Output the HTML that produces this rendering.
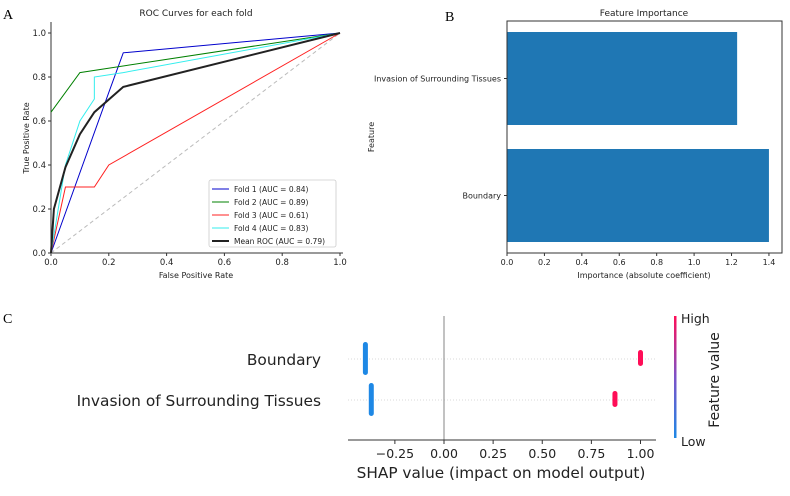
<!DOCTYPE html>
<html><head><meta charset="utf-8"><style>
body{margin:0;background:#fff;}
svg text{font-family:"DejaVu Sans","Liberation Sans",sans-serif;fill:#222;}
.lbl{font-family:"Liberation Serif",serif !important;fill:#000;}
</style></head><body>
<svg id="s" width="790" height="491" xmlns="http://www.w3.org/2000/svg">
<defs><linearGradient id="cb" x1="0" y1="1" x2="0" y2="0"><stop offset="0" stop-color="#1e88e5"/><stop offset="0.5" stop-color="#7c52c8"/><stop offset="1" stop-color="#ff0d57"/></linearGradient></defs>
<text class="lbl" x="3" y="19" font-size="14">A</text>
<text class="lbl" x="445" y="21" font-size="14">B</text>
<text class="lbl" x="3" y="323" font-size="14">C</text>
<g id="A"></g>
<g id="B"></g>
<g id="C"></g>
</svg>
<script>
const foldNames=["Fold 1 (AUC = 0.84)","Fold 2 (AUC = 0.89)","Fold 3 (AUC = 0.61)","Fold 4 (AUC = 0.83)"];
const foldColors=["#0000cc","#008000","#ff2020","#33eeee"];
const fold1X=[0,0.2,0.25,1], fold1Y=[0,0.73,0.91,1];
const fold2X=[0,0.1,1], fold2Y=[0.64,0.82,1];
const fold3X=[0,0.05,0.15,0.2,1], fold3Y=[0,0.3,0.3,0.4,1];
const fold4X=[0,0.05,0.1,0.15,0.15,0.25,1], fold4Y=[0,0.4,0.6,0.7,0.8,0.82,1];
const meanX=[0,0.01,0.05,0.1,0.15,0.25,1], meanY=[0,0.2,0.39,0.54,0.64,0.755,1];
const rocTicks=[0,0.2,0.4,0.6,0.8,1.0];
const featNames=["Boundary","Invasion of Surrounding Tissues"];
const featImportance=[1.4,1.23];
const impTicks=[0,0.2,0.4,0.6,0.8,1.0,1.2,1.4];
const shapLow=[-0.40,-0.37];
const shapHigh=[1.00,0.87];
const shapTicks=[-0.25,0,0.25,0.5,0.75,1.0];
const NS="http://www.w3.org/2000/svg";
function mk(p,t,a,txt){const e=document.createElementNS(NS,t);for(const k in a)e.setAttribute(k,a[k]);if(txt!==undefined)e.textContent=txt;p.appendChild(e);return e;}
// Panel A
const A=document.getElementById('A');
const ax=v=>51+v*289, ay=v=>253-v*220;
mk(A,'line',{x1:51,y1:22,x2:51,y2:253,stroke:'#333','stroke-width':1});
mk(A,'line',{x1:51,y1:253,x2:343,y2:253,stroke:'#333','stroke-width':1});
rocTicks.forEach(t=>{
 mk(A,'line',{x1:ax(t),y1:253,x2:ax(t),y2:256,stroke:'#333'});
 const tx=mk(A,'text',{x:ax(t),y:265,'font-size':8.5,'text-anchor':'middle'},t.toFixed(1));
 
 mk(A,'line',{x1:48,y1:ay(t),x2:51,y2:ay(t),stroke:'#333'});
 const ty=mk(A,'text',{x:46,y:ay(t)+3,'font-size':8.5,'text-anchor':'end'},t.toFixed(1));
 
});
let e=mk(A,'text',{x:196,y:16,'font-size':9,'text-anchor':'middle'},'ROC Curves for each fold');

e=mk(A,'text',{x:196,y:278,'font-size':8,'text-anchor':'middle'},'False Positive Rate');

e=mk(A,'text',{x:0,y:0,'font-size':8,'text-anchor':'middle',transform:'translate(29,138) rotate(-90)'},'True Positive Rate');

e=mk(A,'line',{x1:ax(0),y1:ay(0),x2:ax(1),y2:ay(1),stroke:'#bbb','stroke-dasharray':'4,3','stroke-width':1});

const folds=[[fold1X,fold1Y],[fold2X,fold2Y],[fold3X,fold3Y],[fold4X,fold4Y]];
folds.forEach((f,i)=>{
 const p=mk(A,'polyline',{points:f[0].map((x,j)=>ax(x)+','+ay(f[1][j])).join(' '),fill:'none',stroke:foldColors[i],'stroke-width':1});
 
});
e=mk(A,'polyline',{points:meanX.map((x,j)=>ax(x)+','+ay(meanY[j])).join(' '),fill:'none',stroke:'#222','stroke-width':2});

const lg=mk(A,'g',{});
mk(lg,'rect',{x:209,y:180,width:127,height:67,fill:'#fff',stroke:'#ccc','stroke-width':0.8,rx:2});
const lnames=foldNames.concat(['Mean ROC (AUC = 0.79)']), lcols=foldColors.concat(['#222']);
lnames.forEach((n,i)=>{
 const y=189+i*13;
 mk(lg,'line',{x1:212,y1:y,x2:229,y2:y,stroke:lcols[i],'stroke-width':i==4?2:1});
 const t=mk(lg,'text',{x:234,y:y+3,'font-size':7.5},n);
 
});
// Panel B
const B=document.getElementById('B');
const bx=v=>507+v*187.1;
featNames.forEach((n,i)=>{
 const yc=i==0?195.5:78.5;
 const r=mk(B,'rect',{x:bx(0),y:yc-46.5,width:bx(featImportance[i])-bx(0),height:93,fill:'#1f77b4'});
 
 mk(B,'line',{x1:504,y1:yc,x2:507,y2:yc,stroke:'#333'});
 const t=mk(B,'text',{x:501,y:yc+3,'font-size':8,'text-anchor':'end'},n);
 
});
mk(B,'rect',{x:507,y:21,width:275,height:232,fill:'none',stroke:'#333','stroke-width':1});
impTicks.forEach(t=>{
 mk(B,'line',{x1:bx(t),y1:253,x2:bx(t),y2:256,stroke:'#333'});
 const tx=mk(B,'text',{x:bx(t),y:265,'font-size':8,'text-anchor':'middle'},t.toFixed(1));
 
});
e=mk(B,'text',{x:644,y:16,'font-size':9,'text-anchor':'middle'},'Feature Importance');

e=mk(B,'text',{x:644,y:278,'font-size':8,'text-anchor':'middle'},'Importance (absolute coefficient)');

e=mk(B,'text',{x:0,y:0,'font-size':8,'text-anchor':'middle',transform:'translate(374,137) rotate(-90)'},'Feature');

// Panel C
const C=document.getElementById('C');
const cx=v=>444+v*196.5;
const rowsY=[359,400];
rowsY.forEach(y=>mk(C,'line',{x1:348,y1:y,x2:655,y2:y,stroke:'#ccc','stroke-dasharray':'1,2','stroke-width':0.8}));
mk(C,'line',{x1:444,y1:316,x2:444,y2:440,stroke:'#999','stroke-width':1.2});
mk(C,'line',{x1:348,y1:440,x2:656,y2:440,stroke:'#333','stroke-width':1});
shapTicks.forEach(t=>{
 mk(C,'line',{x1:cx(t),y1:440,x2:cx(t),y2:444,stroke:'#333'});
 const tx=mk(C,'text',{x:cx(t),y:458,'font-size':12.5,'text-anchor':'middle',fill:'#333'},(t<0?'\u2212':'')+Math.abs(t).toFixed(2));
 
});
featNames.forEach((n,i)=>{
 const y=rowsY[i];
 const t=mk(C,'text',{x:321,y:y+6,'font-size':15.4,'text-anchor':'end',fill:'#333'},n);
 
 const lo=mk(C,'rect',{x:cx(shapLow[i])-2.5,y:y-17,width:5,height:33,rx:2.5,fill:'#1e88e5'});
 
 const hi=mk(C,'rect',{x:cx(shapHigh[i])-2.5,y:y-9,width:5,height:16,rx:2.5,fill:'#ff0d57'});
 
});
e=mk(C,'text',{x:501,y:478,'font-size':15.3,'text-anchor':'middle',fill:'#222'},'SHAP value (impact on model output)');

e=mk(C,'rect',{x:674,y:316,width:2.5,height:122,fill:'url(#cb)'});

e=mk(C,'text',{x:681,y:323,'font-size':12.5,fill:'#333'},'High');

e=mk(C,'text',{x:681,y:446,'font-size':12.5,fill:'#333'},'Low');

e=mk(C,'text',{x:0,y:0,'font-size':14,'text-anchor':'middle',fill:'#333',transform:'translate(719,380) rotate(-90)'},'Feature value');

</script>
</body></html>
